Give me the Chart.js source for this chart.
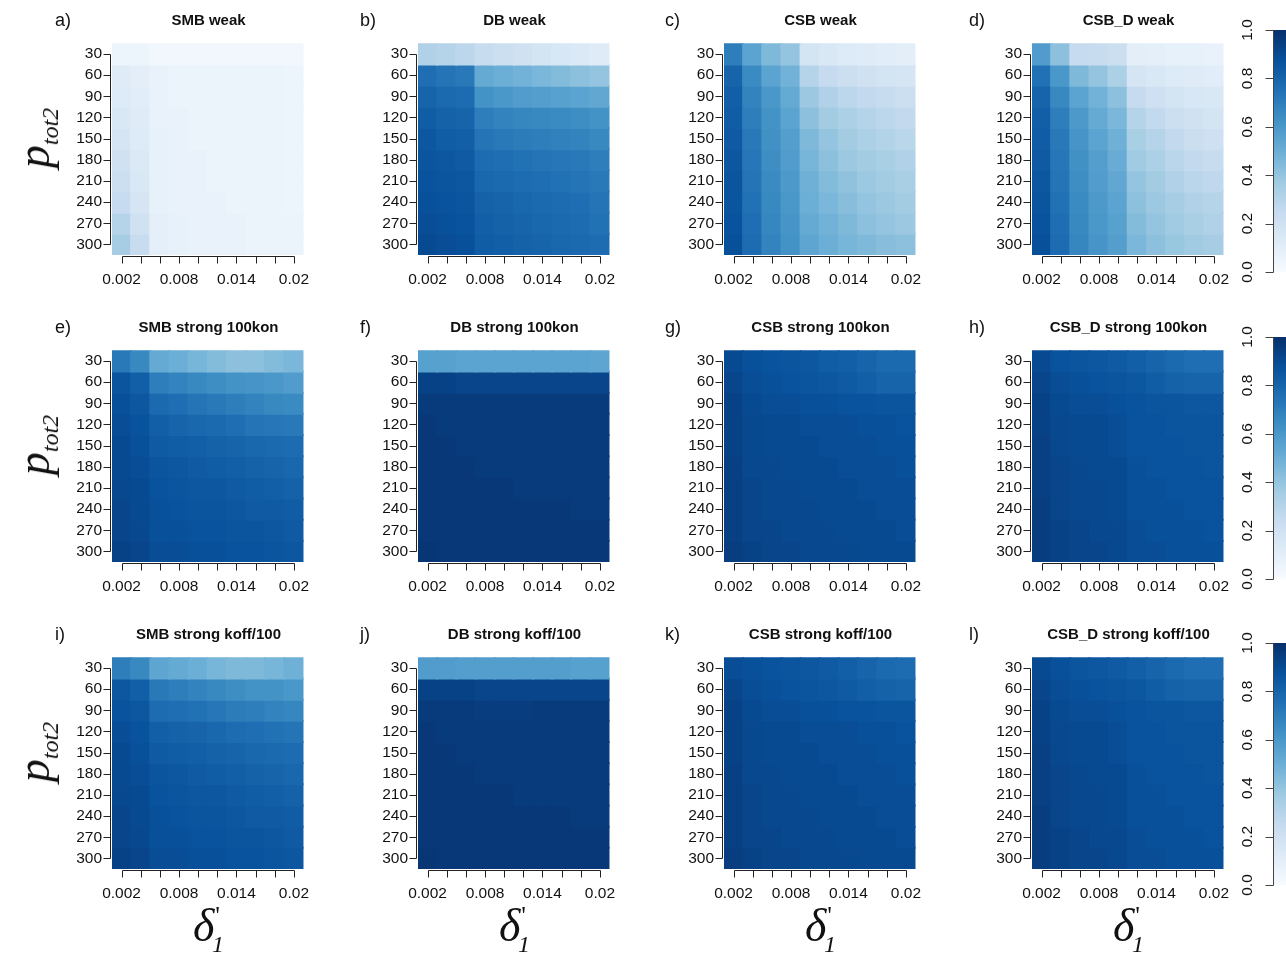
<!DOCTYPE html>
<html>
<head>
<meta charset="utf-8">
<script src="https://cdn.jsdelivr.net/npm/chart.js@4.4.1/dist/chart.umd.min.js"></script>
<style>
html, body { margin: 0; padding: 0; background: #fff; overflow: hidden; }
#page { position: relative; width: 1286px; height: 953px; overflow: hidden; }
canvas { position: absolute; }
.lbl { position: absolute; color: #111; white-space: nowrap; line-height: 1; font-family: 'Liberation Sans', Arial, sans-serif; }
.letter { font-size: 18px; }
.title { font-size: 15px; font-weight: bold; transform: translateX(-50%); }
.ylab { font-family: 'Liberation Serif', serif; font-style: italic; font-size: 46px; transform: translate(-50%, -50%) rotate(-90deg); }
.ylab .sb { font-size: 24px; position: relative; top: 9px; }
.xlab { font-family: 'Liberation Serif', serif; font-style: italic; font-size: 46px; transform: translate(-50%, -50%); }
.xlab .pr { font-size: 26px; position: relative; top: -17px; left: 1px; font-style: normal; }
.xlab .sb { font-size: 24px; position: relative; top: 11px; margin-left: -7px; }
</style>
</head>
<body>
<div id="page"></div>
<script>
// axes
const xVals = ['0.002', '0.004', '0.006', '0.008', '0.01', '0.012', '0.014', '0.016', '0.018', '0.02'];
const xShown = ['0.002', '0.008', '0.014', '0.02'];
const yVals = [30, 60, 90, 120, 150, 180, 210, 240, 270, 300];
const cbTicks = [0, 0.2, 0.4, 0.6, 0.8, 1.0];

// Blues palette used by the colour scale
const blues = ['#F7FBFF', '#DEEBF7', '#C6DBEF', '#9ECAE1', '#6BAED6', '#4292C6', '#2171B5', '#08519C', '#08306B'];

const titles = ['SMB weak', 'DB weak', 'CSB weak', 'CSB_D weak',
    'SMB strong 100kon', 'DB strong 100kon', 'CSB strong 100kon', 'CSB_D strong 100kon',
    'SMB strong koff/100', 'DB strong koff/100', 'CSB strong koff/100', 'CSB_D strong koff/100'];
const letters = ['a)', 'b)', 'c)', 'd)', 'e)', 'f)', 'g)', 'h)', 'i)', 'j)', 'k)', 'l)'];

// rows = p_tot2 30..300, columns = delta 0.002..0.02
const smbWeak = [
    [0.05, 0.05, 0.03, 0.03, 0.03, 0.03, 0.03, 0.03, 0.03, 0.03],
    [0.12, 0.10, 0.07, 0.06, 0.06, 0.06, 0.06, 0.06, 0.06, 0.05],
    [0.13, 0.11, 0.07, 0.06, 0.06, 0.06, 0.06, 0.06, 0.06, 0.05],
    [0.15, 0.12, 0.07, 0.07, 0.06, 0.06, 0.06, 0.06, 0.06, 0.05],
    [0.17, 0.13, 0.08, 0.07, 0.06, 0.06, 0.06, 0.06, 0.06, 0.05],
    [0.20, 0.14, 0.08, 0.07, 0.07, 0.06, 0.06, 0.06, 0.06, 0.05],
    [0.22, 0.15, 0.08, 0.07, 0.07, 0.06, 0.06, 0.06, 0.06, 0.05],
    [0.25, 0.17, 0.08, 0.07, 0.07, 0.07, 0.06, 0.06, 0.06, 0.05],
    [0.30, 0.20, 0.09, 0.08, 0.07, 0.07, 0.07, 0.06, 0.06, 0.06],
    [0.35, 0.24, 0.09, 0.08, 0.07, 0.07, 0.07, 0.06, 0.06, 0.06]
];
const dbWeak = [
    [0.32, 0.30, 0.28, 0.24, 0.22, 0.20, 0.18, 0.16, 0.14, 0.12],
    [0.76, 0.74, 0.72, 0.52, 0.50, 0.48, 0.46, 0.44, 0.42, 0.40],
    [0.80, 0.78, 0.77, 0.62, 0.60, 0.58, 0.57, 0.56, 0.55, 0.53],
    [0.83, 0.81, 0.80, 0.70, 0.68, 0.67, 0.66, 0.65, 0.64, 0.62],
    [0.85, 0.83, 0.82, 0.74, 0.72, 0.71, 0.70, 0.69, 0.68, 0.66],
    [0.86, 0.85, 0.84, 0.77, 0.76, 0.75, 0.74, 0.73, 0.72, 0.70],
    [0.87, 0.86, 0.85, 0.79, 0.78, 0.77, 0.76, 0.75, 0.74, 0.72],
    [0.88, 0.87, 0.86, 0.81, 0.80, 0.79, 0.78, 0.77, 0.76, 0.74],
    [0.89, 0.88, 0.87, 0.82, 0.81, 0.80, 0.79, 0.78, 0.77, 0.75],
    [0.90, 0.89, 0.88, 0.83, 0.82, 0.81, 0.80, 0.79, 0.78, 0.77]
];
const csbWeak = [
    [0.70, 0.55, 0.45, 0.40, 0.18, 0.15, 0.13, 0.12, 0.11, 0.10],
    [0.80, 0.65, 0.55, 0.48, 0.30, 0.25, 0.22, 0.20, 0.18, 0.17],
    [0.82, 0.68, 0.60, 0.52, 0.38, 0.32, 0.28, 0.26, 0.24, 0.22],
    [0.83, 0.70, 0.62, 0.55, 0.42, 0.36, 0.33, 0.30, 0.28, 0.26],
    [0.84, 0.72, 0.63, 0.57, 0.45, 0.40, 0.36, 0.33, 0.31, 0.29],
    [0.85, 0.73, 0.64, 0.58, 0.47, 0.42, 0.38, 0.36, 0.34, 0.32],
    [0.86, 0.74, 0.65, 0.59, 0.49, 0.44, 0.41, 0.38, 0.36, 0.34],
    [0.86, 0.75, 0.66, 0.60, 0.50, 0.46, 0.43, 0.40, 0.38, 0.36],
    [0.87, 0.76, 0.67, 0.61, 0.52, 0.48, 0.45, 0.42, 0.40, 0.38],
    [0.88, 0.77, 0.68, 0.62, 0.54, 0.50, 0.47, 0.45, 0.43, 0.42]
];
const csbdWeak = [
    [0.58, 0.42, 0.25, 0.24, 0.22, 0.10, 0.09, 0.08, 0.08, 0.07],
    [0.75, 0.60, 0.45, 0.40, 0.33, 0.17, 0.15, 0.13, 0.12, 0.11],
    [0.80, 0.66, 0.55, 0.48, 0.42, 0.25, 0.21, 0.18, 0.16, 0.15],
    [0.82, 0.70, 0.59, 0.52, 0.46, 0.30, 0.26, 0.22, 0.20, 0.18],
    [0.83, 0.72, 0.61, 0.55, 0.49, 0.34, 0.30, 0.26, 0.23, 0.21],
    [0.84, 0.73, 0.63, 0.57, 0.51, 0.37, 0.33, 0.29, 0.26, 0.24],
    [0.85, 0.74, 0.64, 0.58, 0.53, 0.40, 0.36, 0.32, 0.29, 0.27],
    [0.86, 0.75, 0.65, 0.59, 0.55, 0.42, 0.38, 0.35, 0.32, 0.30],
    [0.87, 0.76, 0.66, 0.60, 0.56, 0.44, 0.40, 0.37, 0.34, 0.32],
    [0.88, 0.77, 0.67, 0.61, 0.57, 0.46, 0.42, 0.39, 0.37, 0.35]
];
const smbKon = [
    [0.72, 0.66, 0.52, 0.50, 0.47, 0.44, 0.42, 0.42, 0.44, 0.46],
    [0.86, 0.82, 0.70, 0.68, 0.66, 0.64, 0.62, 0.61, 0.60, 0.58],
    [0.88, 0.85, 0.78, 0.76, 0.74, 0.72, 0.70, 0.68, 0.66, 0.65],
    [0.89, 0.87, 0.82, 0.80, 0.79, 0.78, 0.76, 0.74, 0.73, 0.72],
    [0.90, 0.88, 0.84, 0.83, 0.82, 0.81, 0.80, 0.79, 0.78, 0.77],
    [0.90, 0.89, 0.86, 0.85, 0.84, 0.83, 0.82, 0.81, 0.80, 0.79],
    [0.91, 0.90, 0.87, 0.86, 0.85, 0.85, 0.84, 0.83, 0.82, 0.81],
    [0.92, 0.90, 0.88, 0.87, 0.86, 0.86, 0.85, 0.84, 0.84, 0.83],
    [0.92, 0.91, 0.88, 0.88, 0.87, 0.87, 0.86, 0.86, 0.85, 0.84],
    [0.93, 0.92, 0.89, 0.89, 0.88, 0.88, 0.87, 0.87, 0.86, 0.85]
];
const dbKon = [
    [0.56, 0.56, 0.55, 0.55, 0.55, 0.55, 0.55, 0.55, 0.55, 0.54],
    [0.93, 0.93, 0.92, 0.92, 0.92, 0.92, 0.92, 0.92, 0.92, 0.92],
    [0.96, 0.96, 0.96, 0.96, 0.96, 0.96, 0.96, 0.96, 0.96, 0.96],
    [0.97, 0.96, 0.96, 0.96, 0.96, 0.96, 0.96, 0.96, 0.96, 0.96],
    [0.97, 0.97, 0.96, 0.96, 0.96, 0.96, 0.96, 0.96, 0.96, 0.96],
    [0.97, 0.97, 0.97, 0.96, 0.96, 0.96, 0.96, 0.96, 0.96, 0.96],
    [0.97, 0.97, 0.97, 0.97, 0.97, 0.96, 0.96, 0.96, 0.96, 0.96],
    [0.97, 0.97, 0.97, 0.97, 0.97, 0.97, 0.97, 0.97, 0.96, 0.96],
    [0.97, 0.97, 0.97, 0.97, 0.97, 0.97, 0.97, 0.97, 0.97, 0.97],
    [0.98, 0.97, 0.97, 0.97, 0.97, 0.97, 0.97, 0.97, 0.97, 0.97]
];
const csbKon = [
    [0.90, 0.88, 0.87, 0.86, 0.85, 0.83, 0.82, 0.80, 0.78, 0.78],
    [0.92, 0.89, 0.88, 0.87, 0.86, 0.85, 0.84, 0.82, 0.80, 0.80],
    [0.93, 0.90, 0.89, 0.89, 0.88, 0.88, 0.87, 0.87, 0.86, 0.86],
    [0.93, 0.91, 0.90, 0.90, 0.89, 0.89, 0.89, 0.88, 0.88, 0.87],
    [0.93, 0.91, 0.90, 0.90, 0.90, 0.89, 0.89, 0.89, 0.88, 0.88],
    [0.94, 0.91, 0.91, 0.90, 0.90, 0.90, 0.89, 0.89, 0.89, 0.88],
    [0.94, 0.92, 0.91, 0.91, 0.90, 0.90, 0.90, 0.89, 0.89, 0.89],
    [0.94, 0.92, 0.91, 0.91, 0.91, 0.90, 0.90, 0.90, 0.89, 0.89],
    [0.94, 0.92, 0.92, 0.91, 0.91, 0.91, 0.90, 0.90, 0.90, 0.89],
    [0.95, 0.93, 0.92, 0.92, 0.91, 0.91, 0.91, 0.90, 0.90, 0.90]
];
const csbdKon = [
    [0.90, 0.87, 0.86, 0.85, 0.84, 0.82, 0.80, 0.78, 0.76, 0.76],
    [0.92, 0.89, 0.88, 0.87, 0.86, 0.85, 0.83, 0.81, 0.80, 0.80],
    [0.93, 0.90, 0.89, 0.89, 0.88, 0.87, 0.86, 0.86, 0.85, 0.85],
    [0.93, 0.91, 0.90, 0.90, 0.89, 0.87, 0.87, 0.86, 0.86, 0.86],
    [0.94, 0.91, 0.90, 0.90, 0.89, 0.87, 0.87, 0.87, 0.86, 0.86],
    [0.94, 0.92, 0.91, 0.90, 0.90, 0.88, 0.87, 0.87, 0.87, 0.86],
    [0.94, 0.92, 0.91, 0.91, 0.90, 0.88, 0.88, 0.87, 0.87, 0.87],
    [0.95, 0.92, 0.91, 0.91, 0.90, 0.88, 0.88, 0.88, 0.87, 0.87],
    [0.95, 0.93, 0.92, 0.91, 0.91, 0.89, 0.88, 0.88, 0.88, 0.87],
    [0.95, 0.93, 0.92, 0.92, 0.91, 0.89, 0.89, 0.88, 0.88, 0.88]
];
const smbKoff = [
    [0.70, 0.66, 0.54, 0.52, 0.50, 0.47, 0.45, 0.45, 0.47, 0.49],
    [0.85, 0.82, 0.72, 0.70, 0.68, 0.66, 0.64, 0.62, 0.62, 0.60],
    [0.87, 0.85, 0.77, 0.76, 0.75, 0.73, 0.71, 0.70, 0.68, 0.67],
    [0.89, 0.87, 0.82, 0.81, 0.80, 0.79, 0.77, 0.76, 0.75, 0.74],
    [0.90, 0.88, 0.84, 0.83, 0.82, 0.81, 0.80, 0.79, 0.78, 0.77],
    [0.90, 0.89, 0.86, 0.85, 0.84, 0.83, 0.82, 0.81, 0.80, 0.79],
    [0.91, 0.90, 0.87, 0.86, 0.85, 0.85, 0.84, 0.83, 0.82, 0.81],
    [0.92, 0.90, 0.88, 0.87, 0.86, 0.86, 0.85, 0.84, 0.84, 0.83],
    [0.92, 0.91, 0.88, 0.88, 0.87, 0.87, 0.86, 0.86, 0.85, 0.84],
    [0.93, 0.92, 0.89, 0.89, 0.88, 0.88, 0.87, 0.87, 0.86, 0.85]
];
const dbKoff = [
    [0.58, 0.58, 0.57, 0.57, 0.57, 0.57, 0.57, 0.57, 0.56, 0.56],
    [0.93, 0.93, 0.93, 0.92, 0.92, 0.92, 0.92, 0.92, 0.92, 0.92],
    [0.96, 0.96, 0.96, 0.95, 0.95, 0.95, 0.96, 0.96, 0.96, 0.96],
    [0.97, 0.96, 0.96, 0.96, 0.96, 0.96, 0.96, 0.96, 0.96, 0.96],
    [0.97, 0.97, 0.96, 0.96, 0.96, 0.96, 0.96, 0.96, 0.96, 0.96],
    [0.97, 0.97, 0.97, 0.96, 0.96, 0.96, 0.96, 0.96, 0.96, 0.96],
    [0.97, 0.97, 0.97, 0.97, 0.97, 0.96, 0.96, 0.96, 0.96, 0.96],
    [0.97, 0.97, 0.97, 0.97, 0.97, 0.97, 0.97, 0.97, 0.96, 0.96],
    [0.97, 0.97, 0.97, 0.97, 0.97, 0.97, 0.97, 0.97, 0.97, 0.97],
    [0.98, 0.97, 0.97, 0.97, 0.97, 0.97, 0.97, 0.97, 0.97, 0.97]
];
const csbKoff = [
    [0.89, 0.88, 0.87, 0.86, 0.85, 0.84, 0.82, 0.80, 0.78, 0.77],
    [0.92, 0.89, 0.88, 0.87, 0.86, 0.85, 0.84, 0.82, 0.81, 0.80],
    [0.93, 0.90, 0.89, 0.89, 0.88, 0.88, 0.87, 0.87, 0.86, 0.86],
    [0.93, 0.91, 0.90, 0.90, 0.89, 0.89, 0.89, 0.88, 0.88, 0.87],
    [0.93, 0.91, 0.90, 0.90, 0.90, 0.89, 0.89, 0.89, 0.88, 0.88],
    [0.94, 0.91, 0.91, 0.90, 0.90, 0.90, 0.89, 0.89, 0.89, 0.88],
    [0.94, 0.92, 0.91, 0.91, 0.90, 0.90, 0.90, 0.89, 0.89, 0.89],
    [0.94, 0.92, 0.91, 0.91, 0.91, 0.90, 0.90, 0.90, 0.89, 0.89],
    [0.94, 0.92, 0.92, 0.91, 0.91, 0.91, 0.90, 0.90, 0.90, 0.89],
    [0.95, 0.93, 0.92, 0.92, 0.91, 0.91, 0.91, 0.90, 0.90, 0.90]
];
const csbdKoff = [
    [0.90, 0.88, 0.86, 0.85, 0.84, 0.82, 0.80, 0.78, 0.76, 0.76],
    [0.92, 0.89, 0.88, 0.87, 0.86, 0.85, 0.83, 0.81, 0.80, 0.80],
    [0.93, 0.90, 0.89, 0.89, 0.88, 0.87, 0.86, 0.86, 0.85, 0.85],
    [0.93, 0.91, 0.90, 0.90, 0.89, 0.87, 0.87, 0.86, 0.86, 0.86],
    [0.94, 0.91, 0.90, 0.90, 0.89, 0.87, 0.87, 0.87, 0.86, 0.86],
    [0.94, 0.92, 0.91, 0.90, 0.90, 0.88, 0.87, 0.87, 0.87, 0.86],
    [0.94, 0.92, 0.91, 0.91, 0.90, 0.88, 0.88, 0.87, 0.87, 0.87],
    [0.95, 0.92, 0.91, 0.91, 0.90, 0.88, 0.88, 0.88, 0.87, 0.87],
    [0.95, 0.93, 0.92, 0.91, 0.91, 0.89, 0.88, 0.88, 0.88, 0.87],
    [0.95, 0.93, 0.92, 0.92, 0.91, 0.89, 0.89, 0.88, 0.88, 0.88]
];
const grids = [smbWeak, dbWeak, csbWeak, csbdWeak, smbKon, dbKon, csbKon, csbdKon, smbKoff, dbKoff, csbKoff, csbdKoff];

// layout (page pixels)
const colLeft = [112, 418, 724, 1032];
const rowTop = [38, 345, 652];
const plotW = 193, plotH = 217;
const letterX = [55, 360, 665, 969];
const cbLeft = 1273, cbWidth = 22, cbHeight = 242;
const cbTop = [30, 337, 643];
const padL = 62, padB = 38, padT = 14, padR = 20;

const page = document.getElementById('page');

function hexToRgb(h) {
    return [parseInt(h.slice(1, 3), 16), parseInt(h.slice(3, 5), 16), parseInt(h.slice(5, 7), 16)];
}

function blueFor(v) {
    const t = Math.max(0, Math.min(1, v)) * (blues.length - 1);
    const i = Math.min(Math.floor(t), blues.length - 2);
    const f = t - i;
    const a = hexToRgb(blues[i]), b = hexToRgb(blues[i + 1]);
    const c = a.map((x, k) => Math.round(x + (b[k] - x) * f));
    return `rgb(${c[0]},${c[1]},${c[2]})`;
}

function addText(cls, html, left, top) {
    const d = document.createElement('div');
    d.className = 'lbl ' + cls;
    d.innerHTML = html;
    d.style.left = left + 'px';
    d.style.top = top + 'px';
    page.appendChild(d);
}

function addCanvas(left, top, w, h) {
    const c = document.createElement('canvas');
    c.width = w; c.height = h;
    c.style.left = left + 'px';
    c.style.top = top + 'px';
    c.style.width = w + 'px';
    c.style.height = h + 'px';
    page.appendChild(c);
    return c;
}

// R style axes: line from first to last tick, ticks pointing outward
const rAxes = {
    id: 'rAxes',
    afterDraw(chart) {
        const { ctx, chartArea: ca, scales: { x, y } } = chart;
        ctx.save();
        ctx.strokeStyle = '#222';
        ctx.lineWidth = 1;
        ctx.beginPath();
        const yb = Math.round(ca.bottom) + 1.5;
        ctx.moveTo(Math.round(x.getPixelForValue(0)) + 0.5, yb);
        ctx.lineTo(Math.round(x.getPixelForValue(xVals.length - 1)) + 0.5, yb);
        xVals.forEach((_, i) => {
            const px = Math.round(x.getPixelForValue(i)) + 0.5;
            ctx.moveTo(px, yb);
            ctx.lineTo(px, yb + 7);
        });
        const xl = Math.round(ca.left) - 1.5;
        ctx.moveTo(xl, Math.round(y.getPixelForValue(yVals[0])) + 0.5);
        ctx.lineTo(xl, Math.round(y.getPixelForValue(yVals[yVals.length - 1])) + 0.5);
        yVals.forEach(v => {
            const py = Math.round(y.getPixelForValue(v)) + 0.5;
            ctx.moveTo(xl, py);
            ctx.lineTo(xl - 7, py);
        });
        ctx.stroke();
        ctx.restore();
    }
};

const tickFont = { family: "'Liberation Sans', Arial, sans-serif", size: 15.5 };

function drawPanel(idx) {
    const r = Math.floor(idx / 4), c = idx % 4;
    const L = colLeft[c], T = rowTop[r];
    const grid = grids[idx];
    const step = yVals[1] - yVals[0];
    const canvas = addCanvas(L - padL, T - padT, padL + plotW + padR, padT + plotH + padB);

    new Chart(canvas, {
        type: 'bar',
        data: {
            labels: xVals,
            datasets: yVals.map((p, ri) => ({
                data: grid[ri].map(() => [p - step / 2, p + step / 2]),
                backgroundColor: grid[ri].map(blueFor),
                borderWidth: 0,
                inflateAmount: 1,
                grouped: false,
                barPercentage: 1,
                categoryPercentage: 1
            }))
        },
        options: {
            responsive: false,
            animation: false,
            events: [],
            layout: { autoPadding: false, padding: { top: padT, right: padR, left: 0, bottom: 0 } },
            plugins: { legend: { display: false }, tooltip: { enabled: false } },
            scales: {
                x: {
                    type: 'category',
                    offset: true,
                    grid: { display: false, drawTicks: false },
                    border: { display: false },
                    ticks: {
                        autoSkip: false, maxRotation: 0, minRotation: 0, padding: 15,
                        color: '#111', font: tickFont,
                        callback: (v, i) => xShown.includes(xVals[i]) ? xVals[i] : ''
                    },
                    afterFit: s => { s.height = padB; }
                },
                y: {
                    type: 'linear',
                    reverse: true,
                    min: yVals[0] - step / 2,
                    max: yVals[yVals.length - 1] + step / 2,
                    grid: { display: false, drawTicks: false },
                    border: { display: false },
                    afterBuildTicks: s => { s.ticks = yVals.map(v => ({ value: v })); },
                    ticks: { padding: 10, color: '#111', font: tickFont },
                    afterFit: s => { s.width = padL; }
                }
            }
        },
        plugins: [rAxes]
    });

    addText('letter', letters[idx], letterX[c], T - 12 - 15);
    addText('title', titles[idx], L + plotW / 2, T - 13 - 13);
}

// colour bar with rotated labels on its left
const cbAxis = {
    id: 'cbAxis',
    afterDraw(chart) {
        const { ctx, chartArea: ca, scales: { y } } = chart;
        ctx.save();
        ctx.strokeStyle = '#444';
        ctx.lineWidth = 1;
        ctx.beginPath();
        const xl = Math.round(ca.left) + 0.5;
        ctx.moveTo(xl, Math.round(y.getPixelForValue(0)) + 0.5);
        ctx.lineTo(xl, Math.round(y.getPixelForValue(1)) + 0.5);
        cbTicks.forEach(v => {
            const py = Math.round(y.getPixelForValue(v)) + 0.5;
            ctx.moveTo(xl, py);
            ctx.lineTo(xl - 8, py);
        });
        ctx.stroke();
        ctx.fillStyle = '#111';
        ctx.font = "15.5px 'Liberation Sans', Arial, sans-serif";
        ctx.textAlign = 'center';
        ctx.textBaseline = 'middle';
        cbTicks.forEach(v => {
            ctx.save();
            ctx.translate(ca.left - 25, y.getPixelForValue(v));
            ctx.rotate(-Math.PI / 2);
            ctx.fillText(v.toFixed(1), 0, 0);
            ctx.restore();
        });
        ctx.restore();
    }
};

function drawColorbar(r) {
    const pad = 14, axisW = 45;
    const canvas = addCanvas(cbLeft - axisW, cbTop[r] - pad, axisW + cbWidth, cbHeight + 2 * pad);
    new Chart(canvas, {
        type: 'bar',
        data: {
            labels: ['level'],
            datasets: [{
                data: [[cbTicks[0], cbTicks[cbTicks.length - 1]]],
                backgroundColor: ctx => {
                    const chart = ctx.chart;
                    if (!chart.chartArea) return blues[4];
                    const y = chart.scales.y;
                    const g = chart.ctx.createLinearGradient(0, y.getPixelForValue(0), 0, y.getPixelForValue(1));
                    blues.forEach((col, i) => g.addColorStop(i / (blues.length - 1), col));
                    return g;
                },
                borderWidth: 0,
                barPercentage: 1,
                categoryPercentage: 1
            }]
        },
        options: {
            responsive: false,
            animation: false,
            events: [],
            layout: { autoPadding: false, padding: { top: pad, bottom: pad, left: 0, right: 0 } },
            plugins: { legend: { display: false }, tooltip: { enabled: false } },
            scales: {
                x: { display: false, offset: true },
                y: {
                    min: 0, max: 1,
                    grid: { display: false, drawTicks: false },
                    border: { display: false },
                    ticks: { display: false },
                    afterFit: s => { s.width = axisW; }
                }
            }
        },
        plugins: [cbAxis]
    });
}

grids.forEach((_, i) => drawPanel(i));
[0, 1, 2].forEach(drawColorbar);

// axis titles
rowTop.forEach(T => {
    addText('ylab', 'p<span class="sb">tot2</span>', 34, T + 100);
});
colLeft.forEach(L => {
    addText('xlab', 'δ<span class="pr">\'</span><span class="sb">1</span>', L + plotW / 2, 926);
});
</script>
</body>
</html>
